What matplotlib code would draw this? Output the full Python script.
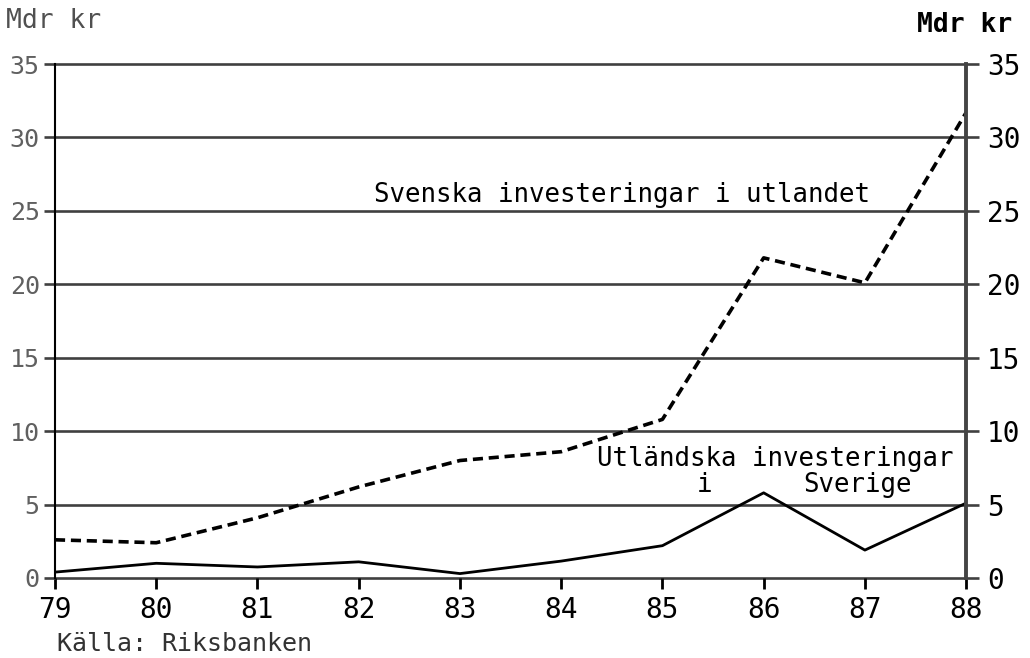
import matplotlib.pyplot as plt
import numpy as np

# data
years = [79, 80, 81, 82, 83, 84, 85, 86, 87, 88]
svenska_utl = [2.6, 2.4, 4.1, 6.2, 8.0, 8.6, 10.8, 21.8, 20.1, 31.7]
utl_sverige = [0.4, 1.0, 0.75, 1.1, 0.3, 1.15, 2.2, 5.8, 1.9, 5.1]
yticks = [0, 5, 10, 15, 20, 25, 30, 35]

plt.rcParams['font.family'] = ['DejaVu Sans Mono']

fig = plt.figure(figsize=(10.3, 6.58), dpi=100)
ax = fig.add_axes([0.0534, 0.1216, 0.8846, 0.7811])

# horisontella linjer
for v in yticks:
    ax.axhline(v, color='#404040', lw=1.9, zorder=1, clip_on=False)

ax.plot(years, svenska_utl, color='black', lw=2.6, ls=(0, (2.8, 1.6)), zorder=3)
ax.plot(years, utl_sverige, color='black', lw=2.0, zorder=3)

ax.set_xlim(79, 88)
ax.set_ylim(0, 35)
ax.set_xticks(years)
ax.set_xticklabels([str(y) for y in years], fontsize=20)
ax.set_yticks(yticks)
ax.set_yticklabels([str(v) for v in yticks], fontsize=18, color='#606060')
ax.tick_params(axis='x', length=8, width=2, direction='out', pad=5, colors='black')
ax.tick_params(axis='y', length=8, width=1.9, direction='out', pad=3, color='#404040')

ax2 = ax.twinx()
ax2.set_ylim(0, 35)
ax2.set_yticks(yticks)
ax2.set_yticklabels([str(v) for v in yticks], fontsize=20)
ax2.tick_params(axis='y', length=9, width=1.9, direction='out', pad=6, color='#404040')

for a in (ax, ax2):
    a.spines['top'].set_visible(False)
    a.spines['bottom'].set_visible(False)
ax.spines['right'].set_visible(False)
ax.spines['left'].set_linewidth(1.5)
ax2.spines['left'].set_visible(False)
ax2.spines['right'].set_linewidth(2.8)
ax2.spines['right'].set_color('#444444')

# texter
ax.text(84.6, 26.1, 'Svenska investeringar i utlandet', fontsize=18.5,
        ha='center', va='center')
ax.text(86.11, 8.1, 'Utländska investeringar', fontsize=18.5, ha='center', va='center')
ax.text(85.42, 6.3, 'i', fontsize=18.5, ha='center', va='center')
ax.text(86.93, 6.3, 'Sverige', fontsize=18.5, ha='center', va='center')

fig.text(0.006, 0.968, 'Mdr kr', fontsize=19, color='#505050', ha='left', va='center')
fig.text(0.983, 0.962, 'Mdr kr', fontsize=19, fontweight='bold', ha='right', va='center')
fig.text(0.055, 0.022, 'Källa: Riksbanken', fontsize=18, color='#333333',
         ha='left', va='center')

fig.savefig('out.png', dpi=100, facecolor='white')
